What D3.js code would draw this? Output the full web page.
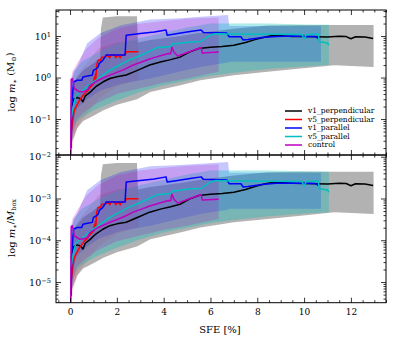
<!DOCTYPE html>
<html>
<head>
<meta charset="utf-8">
<script src="https://cdn.jsdelivr.net/npm/d3@7"></script>
<style>
  body { margin: 0; background: #fff; }
  text { font-family: "DejaVu Serif", serif; fill: #000; }
</style>
</head>
<body>
<svg id="chart" width="397" height="344"></svg>
<script>
// ---- data (stellar mass in Msun vs SFE in %) ----
const MBOX = 4250; // box mass used for the lower panel

const seriesNames = ["v1_perpendicular", "v5_perpendicular", "v1_parallel", "v5_parallel", "control"];
const seriesColors = ["#000000", "#ff0000", "#0000ff", "#00bfbf", "#bf00bf"];
const bandOpacity = [0.3, 0.12, 0.22, 0.32, 0.2];

// lines: [sfe, mass]
const v1PerpLine = [[0.05,0.19],[0.15,0.30],[0.3,0.33],[0.45,0.31],[0.55,0.26],[0.65,0.36],[0.85,0.44],[1.1,0.6],[1.4,0.78],[1.7,0.95],[2.0,1.05],[2.4,1.15],[2.7,1.35],[3.0,1.6],[3.4,2.0],[3.9,2.4],[4.3,2.7],[4.7,3.1],[5.1,4.1],[5.5,5.0],[6.0,5.4],[6.5,5.6],[7.0,6.0],[7.5,7.0],[7.9,8.2],[8.3,9.4],[8.6,10.2],[9.0,10.2],[9.5,9.8],[10.0,9.7],[10.5,9.6],[11.0,9.5],[11.5,9.9],[11.8,9.7],[12.0,8.6],[12.2,9.6],[12.6,9.5],[12.95,8.7]];
const v5PerpLine = [[0.06,0.05],[0.12,0.1],[0.18,0.16],[0.3,0.22],[0.4,0.28],[0.6,0.4],[0.75,0.48],[0.9,0.62],[1.0,0.7],[1.04,1.0],[1.06,0.8],[1.08,1.2],[1.1,0.9],[1.14,2.0],[1.2,2.6],[1.3,2.6],[1.35,3.1],[1.5,3.1],[1.6,3.5],[1.7,3.0],[1.75,3.5],[1.9,3.5],[1.95,3.0],[2.05,3.5],[2.15,3.0],[2.2,3.5],[2.35,3.5],[2.4,4.2],[2.92,4.2]];
const v1ParLine = [[0.05,0.02],[0.07,0.2],[0.15,0.78],[0.3,0.86],[0.5,0.86],[0.55,1.03],[0.8,1.1],[0.95,1.14],[1.0,1.5],[1.1,1.6],[1.2,1.8],[1.25,2.2],[1.4,2.6],[1.55,3.5],[2.35,3.5],[2.4,10.5],[3.0,11.5],[3.6,12.5],[4.1,14],[4.15,10.5],[4.6,11.5],[5.2,13],[5.6,14],[5.7,12.2],[6.7,11.8],[6.8,9.6],[7.3,9.6],[7.4,8.0],[7.6,8.2],[8.2,9.2],[8.8,9.8],[9.5,10],[10.0,9.8],[10.5,9.7],[10.6,8.8]];
const v5ParLine = [[0.04,0.1],[0.1,0.16],[0.25,0.37],[0.55,0.49],[0.8,0.65],[1.1,0.86],[1.4,1.14],[1.7,1.5],[2.1,1.98],[2.5,2.6],[2.8,3.05],[3.2,3.8],[3.7,5.2],[4.3,5.6],[4.4,6.6],[4.5,6.4],[4.6,6.6],[5.1,7.2],[5.6,7.4],[6.0,10.6],[6.2,11.4],[7.0,11.2],[8.0,11.0],[9.0,11.0],[9.9,10.9],[10.0,8.6],[10.1,10.8],[10.6,11.2],[10.65,7.3],[11.0,6.8],[11.06,6.0]];
const controlLine = [[0.0,0.01],[0.03,0.01],[0.05,0.9],[0.1,0.95],[0.18,0.55],[0.4,0.45],[0.6,0.46],[0.75,0.5],[0.85,0.65],[1.2,0.86],[1.7,1.14],[2.3,1.55],[2.7,2.0],[3.0,2.3],[3.4,2.8],[3.7,3.15],[3.9,3.4],[4.2,3.8],[4.3,3.75],[4.35,5.4],[4.45,4.0],[4.6,3.3],[5.1,4.2],[5.6,5.3],[5.65,3.9],[6.35,4.1]];

// bands: [sfe, low, high]
const v1PerpBand = [[0.02,0.012,0.3],[0.1,0.03,0.6],[0.3,0.06,1.0],[0.56,0.09,1.5],[1.0,0.12,2.2],[1.29,0.147,3.0],[1.32,0.15,15],[1.4,0.16,28],[2.0,0.22,30],[2.86,0.3,30],[2.9,0.31,7],[3.43,0.45,8],[4.71,0.65,10],[5.57,0.86,12],[7.0,1.14,15],[8.44,1.37,18],[9.86,1.65,18.5],[11.3,1.99,18.5],[12.97,1.8,18.5]];
const v5PerpBand = [[0.05,0.012,0.3],[0.15,0.03,0.8],[0.4,0.08,1.4],[0.8,0.15,2.5],[1.2,0.3,5],[2.0,0.6,7],[2.92,0.9,8]];
const v1ParBand = [[0.05,0.02,0.8],[0.15,0.1,1.4],[0.3,0.18,1.8],[0.73,0.3,6.7],[1.29,0.48,11.7],[2.14,0.7,18],[3.43,0.95,25],[4.7,1.4,27],[5.57,1.8,29],[6.75,2.3,32],[6.8,2.4,17.5],[10.72,2.4,17.5]];
const v5ParBand = [[0.03,0.02,0.5],[0.1,0.05,1.0],[0.25,0.08,1.6],[0.5,0.11,2.4],[1.0,0.16,3.5],[1.3,0.19,4.5],[2.0,0.28,6.5],[3.0,0.45,9],[4.0,0.65,12],[5.0,0.85,16],[6.0,1.1,20],[7.0,1.3,20],[8.5,1.6,20],[10.0,1.85,19],[11.06,2.0,18.6]];
const controlBand = [[0.0,0.01,0.3],[0.03,0.01,0.9],[0.1,0.04,1.4],[0.3,0.1,2.2],[0.7,0.16,5],[1.2,0.25,9],[2.0,0.4,15],[3.0,0.55,20],[4.0,0.75,23],[5.0,0.95,26],[6.35,1.37,28]];

const lines = [v1PerpLine, v5PerpLine, v1ParLine, v5ParLine, controlLine];
const bands = [v1PerpBand, v5PerpBand, v1ParBand, v5ParBand, controlBand];

const xTicks = [0, 2, 4, 6, 8, 10, 12];

// ---- layout ----
const svg = d3.select("#chart");
const left = 56, right = 386;

const x = d3.scaleLinear().domain([-0.6, 13.5]).range([left, right]);

const panels = [
  { top: 10, bottom: 155, domain: [0.0136, 42.4], div: 1, showX: false },
  { top: 155, bottom: 302.7, domain: [3.2e-6, 0.011], div: MBOX, showX: true }
];

const supNum = n => String(n).replace("-", "\u2212");

panels.forEach(function(p, pi) {
  const y = d3.scaleLog().domain(p.domain).range([p.bottom, p.top]);

  const clipId = "clip" + pi;
  svg.append("clipPath").attr("id", clipId)
    .append("rect").attr("x", left).attr("y", p.top)
    .attr("width", right - left).attr("height", p.bottom - p.top);

  const g = svg.append("g").attr("clip-path", "url(#" + clipId + ")");

  const area = d3.area()
    .x(d => x(d[0]))
    .y0(d => y(d[1] / p.div))
    .y1(d => y(d[2] / p.div));

  bands.forEach(function(b, i) {
    g.append("path").datum(b)
      .attr("d", area)
      .attr("fill", seriesColors[i])
      .attr("fill-opacity", bandOpacity[i])
      .attr("stroke", "none");
  });

  const line = d3.line()
    .x(d => x(d[0]))
    .y(d => y(d[1] / p.div));

  lines.forEach(function(l, i) {
    g.append("path").datum(l)
      .attr("d", line)
      .attr("fill", "none")
      .attr("stroke", seriesColors[i])
      .attr("stroke-width", 1.5)
      .attr("stroke-linejoin", "round");
  });

  // log ticks
  const lo = Math.floor(Math.log10(p.domain[0])), hi = Math.ceil(Math.log10(p.domain[1]));
  const majors = [], minors = [];
  for (let k = lo; k <= hi; k++) {
    for (let m = 1; m <= 9; m++) {
      const v = m * Math.pow(10, k);
      if (v < p.domain[0] || v > p.domain[1]) continue;
      (m === 1 ? majors : minors).push(v);
    }
  }

  const yMajL = svg.append("g").attr("transform", "translate(" + left + ",0)")
    .call(d3.axisLeft(y).tickValues(majors).tickSize(-5).tickPadding(5)
      .tickFormat(d => "10"));
  yMajL.selectAll(".tick text").each(function(d) {
    d3.select(this).attr("font-size", 9.5)
      .append("tspan").attr("dy", "-0.45em").attr("font-size", "70%")
      .text(supNum(Math.round(Math.log10(d))));
  });
  svg.append("g").attr("transform", "translate(" + left + ",0)")
    .call(d3.axisLeft(y).tickValues(minors).tickSize(-2.5).tickFormat(""));
  svg.append("g").attr("transform", "translate(" + right + ",0)")
    .call(d3.axisRight(y).tickValues(majors).tickSize(-5).tickFormat(""));
  svg.append("g").attr("transform", "translate(" + right + ",0)")
    .call(d3.axisRight(y).tickValues(minors).tickSize(-2.5).tickFormat(""));

  // x ticks, top and bottom of each panel
  const minorX = d3.range(-0.5, 13.51, 0.5).filter(v => v % 2 !== 0);
  const xb = svg.append("g").attr("transform", "translate(0," + p.bottom + ")")
    .call(d3.axisBottom(x).tickValues(xTicks).tickSize(-5).tickPadding(6)
      .tickFormat(p.showX ? d3.format("d") : ""));
  xb.selectAll(".tick text").attr("font-size", 9);
  svg.append("g").attr("transform", "translate(0," + p.bottom + ")")
    .call(d3.axisBottom(x).tickValues(minorX).tickSize(-2.5).tickFormat(""));
  svg.append("g").attr("transform", "translate(0," + p.top + ")")
    .call(d3.axisTop(x).tickValues(xTicks).tickSize(-5).tickFormat(""));
  svg.append("g").attr("transform", "translate(0," + p.top + ")")
    .call(d3.axisTop(x).tickValues(minorX).tickSize(-2.5).tickFormat(""));

  svg.append("rect").attr("x", left).attr("y", p.top)
    .attr("width", right - left).attr("height", p.bottom - p.top)
    .attr("fill", "none").attr("stroke", "#000").attr("stroke-width", 1);
});

svg.selectAll(".domain").remove();
svg.selectAll(".tick line").attr("stroke", "#000").attr("stroke-width", 0.8);
svg.selectAll(".tick text").attr("font-family", "DejaVu Serif");

// axis labels
const yl1 = svg.append("text").attr("transform", "translate(15,82) rotate(-90)")
  .attr("text-anchor", "middle").attr("font-size", 10);
yl1.append("tspan").text("log ");
yl1.append("tspan").attr("font-style", "italic").text("m");
yl1.append("tspan").attr("dy", "0.3em").attr("font-size", "65%").text("\u2217");
yl1.append("tspan").attr("dy", "-0.3em").text(" (M");
yl1.append("tspan").attr("dy", "0.3em").attr("font-size", "65%").text("\u2299");
yl1.append("tspan").attr("dy", "-0.3em").text(")");

const yl2 = svg.append("text").attr("transform", "translate(15,228) rotate(-90)")
  .attr("text-anchor", "middle").attr("font-size", 10);
yl2.append("tspan").text("log ");
yl2.append("tspan").attr("font-style", "italic").text("m");
yl2.append("tspan").attr("dy", "0.3em").attr("font-size", "65%").text("\u2217");
yl2.append("tspan").attr("dy", "-0.3em").text("/");
yl2.append("tspan").attr("font-style", "italic").text("M");
yl2.append("tspan").attr("dy", "0.3em").attr("font-size", "65%").text("box");

svg.append("text").attr("x", 220).attr("y", 333).attr("text-anchor", "middle")
  .attr("font-size", 10).text("SFE [%]");

// legend
const legend = svg.append("g").attr("transform", "translate(285,111)");
seriesNames.forEach(function(name, i) {
  const row = legend.append("g").attr("transform", "translate(0," + (i * 8.5) + ")");
  row.append("line").attr("x1", 0).attr("x2", 17).attr("y1", 0).attr("y2", 0)
    .attr("stroke", seriesColors[i]).attr("stroke-width", 1.5);
  row.append("text").attr("x", 23).attr("y", 0).attr("dy", "0.32em")
    .attr("font-size", 7.5).text(name);
});
</script>
</body>
</html>
